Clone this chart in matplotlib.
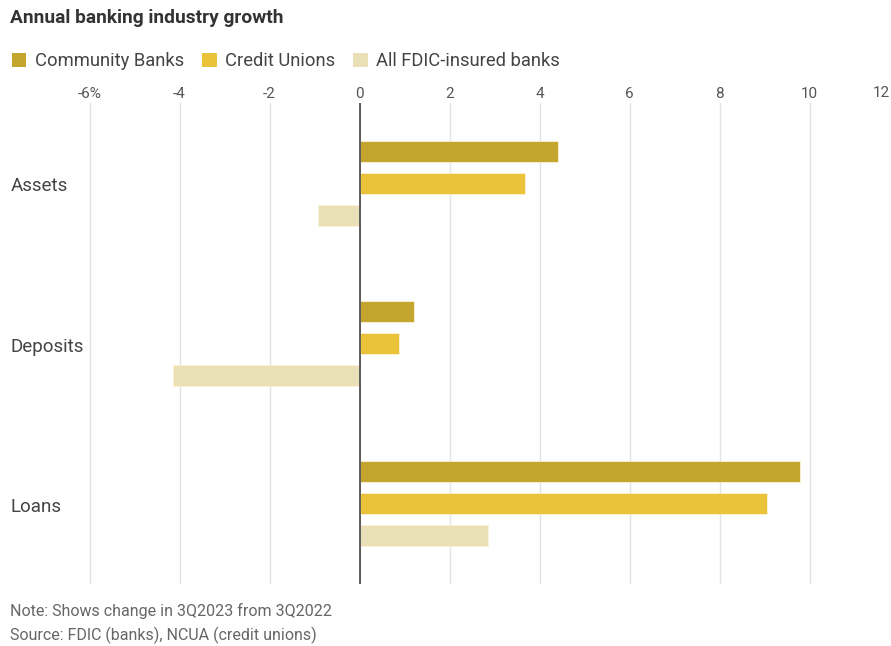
"""Annual banking industry growth: horizontal grouped bars, WSJ style."""
import matplotlib
matplotlib.use('Agg')
import matplotlib.pyplot as plt
from matplotlib.patches import Patch
from matplotlib.transforms import blended_transform_factory

plt.rcParams['font.family'] = ['Roboto', 'DejaVu Sans']

CATEGORIES = ['Assets', 'Deposits', 'Loans']
SERIES = ['Community Banks', 'Credit Unions', 'All FDIC-insured banks']
COMMUNITY = [4.41, 1.22, 9.79]
CREDIT_UNIONS = [3.67, 0.88, 9.05]
ALL_FDIC = [-0.93, -4.14, 2.86]
COLORS = ['#c4a52e', '#ebc33a', '#eae0b8']
XTICKS = [-6, -4, -2, 0, 2, 4, 6, 8, 10, 12]
XTICK_LABELS = ['-6%', '-4', '-2', '0', '2', '4', '6', '8', '10', '12']

W, H = 891, 646


def main():
    fig = plt.figure(figsize=(W / 100, H / 100), dpi=100)
    # plot box in pixels: x 0..899.5 (0 at 359.5, 45 px per unit), y 103..584
    left, right, top, bottom = 0, 899.5, 103, 584
    ax = fig.add_axes([left / W, 1 - bottom / H, (right - left) / W,
                       (bottom - top) / H])
    ax.set_xlim(-359.5 / 45, 12)
    ax.set_ylim(2.5, -0.5)

    offsets = (-0.2, 0.0, 0.2)
    for vals, off, col in zip((COMMUNITY, CREDIT_UNIONS, ALL_FDIC),
                              offsets, COLORS):
        ax.barh([i + off for i in range(len(CATEGORIES))], vals,
                height=0.13, color=col, edgecolor='#fbf3d6', lw=0.6,
                zorder=3)

    # the last tick sits past the right edge; its label is drawn by hand
    ax.set_xticks(XTICKS)
    ax.set_xticklabels(XTICK_LABELS[:-1] + [''])
    ax.xaxis.tick_top()
    ax.tick_params(axis='x', length=0, pad=1.5, labelsize=11,
                   labelcolor='#555555')
    ax.set_yticks([])
    ax.grid(axis='x', color='#e3e3e3', lw=1, zorder=0)
    ax.axvline(0, color='#444444', lw=1.2, zorder=4)
    for s in ax.spines.values():
        s.set_visible(False)

    fig.text(890 / W, 1 - 93 / H, XTICK_LABELS[-1], fontsize=11,
             color='#555555', ha='right', va='center')

    trans = blended_transform_factory(fig.transFigure, ax.transData)
    for i, cat in enumerate(CATEGORIES):
        ax.text(11 / W, i + 0.02, cat, transform=trans, ha='left',
                va='center', fontsize=13.5, color='#444444')

    fig.text(10 / W, 1 - 18 / H, 'Annual banking industry growth',
             fontsize=13.8, fontweight='bold', color='#333333',
             ha='left', va='center')

    handles = [Patch(facecolor=c, edgecolor='none') for c in COLORS]
    fig.legend(handles, SERIES, loc='center left', ncol=3,
               bbox_to_anchor=(-3 / W, 1 - 61 / H), frameon=False,
               fontsize=13.2, handlelength=0.8, handleheight=0.8,
               handletextpad=0.45, columnspacing=1.0, borderpad=0.3,
               labelcolor='#444444')

    fig.text(10 / W, 1 - 611 / H, 'Note: Shows change in 3Q2023 from 3Q2022',
             fontsize=11.5, color='#666666', ha='left', va='center')
    fig.text(10 / W, 1 - 635 / H, 'Source: FDIC (banks), NCUA (credit unions)',
             fontsize=11.5, color='#666666', ha='left', va='center')

    fig.savefig('out.png', dpi=100)


if __name__ == '__main__':
    main()
